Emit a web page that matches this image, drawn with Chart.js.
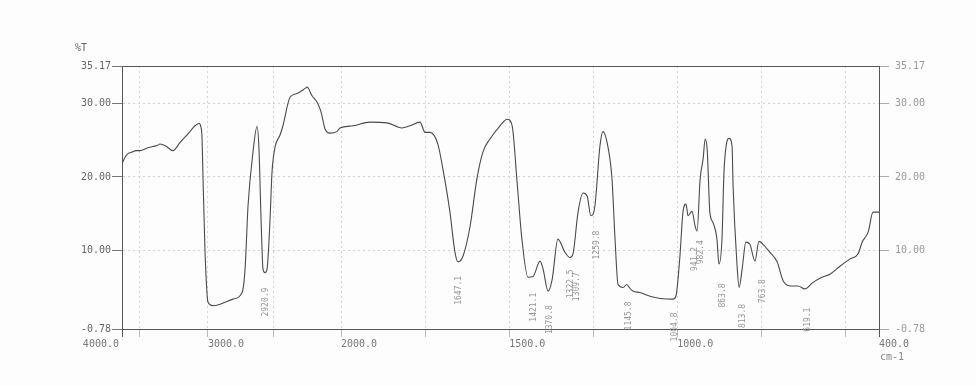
<!DOCTYPE html>
<html>
<head>
<meta charset="utf-8">
<script src="https://cdn.jsdelivr.net/npm/chart.js@4.4.1/dist/chart.umd.min.js"></script>
<style>
  html, body { margin: 0; padding: 0; background: #fdfdfd; }
  canvas { display: block; }
</style>
</head>
<body>
<canvas id="ir" width="976" height="385"></canvas>
<script>
// ////// spectrum (cm-1 , %T) ////////
const wavenumber = [
  3990, 3971, 3912, 3824, 3706, 3588, 3493, 3435, 3370, 3348, 3304, 3254, 3203, 3145, 3094, 3065, 3051, 3043, 3036, 3022,
  3007, 3000, 2962, 2908, 2808, 2738, 2715, 2692, 2654, 2623, 2608, 2592, 2577, 2562, 2546, 2523, 2508, 2485, 2449, 2427,
  2375, 2323, 2279, 2257, 2250, 2213, 2176, 2147, 2118, 2081, 2030, 2008, 1964, 1914, 1863, 1819, 1795, 1765, 1750, 1735,
  1712, 1697, 1676, 1661, 1652, 1637, 1616, 1596, 1578, 1557, 1527, 1506, 1491, 1477, 1462, 1444, 1429, 1408, 1399, 1384,
  1372, 1355, 1334, 1319, 1310, 1295, 1280, 1268, 1257, 1245, 1230, 1221, 1206, 1194, 1185, 1176, 1161, 1150, 1143, 1132,
  1111, 1081, 1051, 1013, 1004, 992, 983, 974, 968, 956, 947, 941, 932, 923, 917, 911, 903, 894, 882, 876,
  867, 861, 852, 846, 837, 834, 822, 816, 807, 796, 784, 769, 757, 745, 724, 703, 685, 665, 641, 620,
  596, 570, 546, 516, 486, 462, 450, 432, 418, 406, 400
];
const transmittance = [
  21.9, 22.1, 22.7, 23.2, 23.4, 23.6, 23.6, 24.0, 24.3, 24.5, 24.2, 23.6, 24.7, 25.9, 27.0, 27.3, 26.8, 25.2, 19.7, 10.1,
  4.0, 2.9, 2.4, 2.6, 3.3, 4.2, 7.4, 16.1, 23.4, 26.9, 23.8, 14.2, 7.4, 6.9, 7.4, 14.2, 20.6, 24.1, 25.7, 27.0,
  30.9, 31.4, 31.9, 32.2, 32.3, 31.1, 30.2, 28.9, 26.6, 26.0, 26.2, 26.7, 27.0, 27.5, 27.4, 26.7, 27.0, 27.5, 26.1, 26.1,
  24.5, 21.1, 15.2, 9.7, 8.4, 9.2, 13.3, 19.7, 23.4, 25.2, 27.0, 27.9, 27.0, 19.7, 11.5, 6.3, 6.4, 8.5, 7.4, 4.4,
  6.0, 11.5, 9.7, 9.0, 9.5, 15.2, 17.8, 17.4, 14.7, 16.0, 24.2, 26.2, 24.1, 19.7, 11.5, 5.3, 4.9, 5.3, 4.9, 4.4,
  4.2, 3.7, 3.4, 3.3, 3.7, 9.2, 15.2, 16.3, 14.7, 15.3, 13.3, 12.6, 19.7, 22.5, 25.2, 23.8, 15.2, 13.8, 11.5, 8.1,
  11.5, 20.7, 24.9, 25.3, 24.2, 18.8, 7.8, 4.9, 7.4, 11.1, 10.8, 8.5, 11.2, 10.8, 9.7, 8.4, 5.8, 5.1, 5.1, 4.7,
  5.6, 6.3, 6.7, 7.8, 8.8, 9.5, 11.1, 12.5, 15.2, 15.2, 15.2
];

// peak labels printed by the instrument (text, where it stands on the scan)
const peakText  = ['2920.9', '1647.1', '1421.1', '1370.8', '1322.5', '1309.7', '1259.8', '1145.8', '1004.8', '982.4', '941.2', '863.8', '813.8', '763.8', '619.1'];
const peakWave  = [2554, 1649, 1426, 1378, 1316, 1298, 1239, 1143, 1007, 929, 947, 864, 804, 745, 611];
const peakLevel = [2.9, 4.5, 2.2, 0.5, 5.4, 5.0, 10.7, 1.0, -0.5, 9.7, 8.8, 3.8, 1.0, 4.4, 0.5];

// axis ticks
const yTickVals = [-0.78, 10, 20, 30, 35.17];
const xGridVals = [4000, 3500, 3000, 2500, 2000, 1750, 1500, 1250, 1000, 750, 500, 400];
const xLabelVals = [4000, 3000, 2000, 1500, 1000, 400];

// the recorder uses a compressed scale above 2000 cm-1
const xKnotWave = [4000, 3500, 3000, 2500, 2000, 400];
const xKnotFrac = [0, 0.0225, 0.1136, 0.1995, 0.2893, 1];

function waveToFrac(v) {
  for (let i = 1; i < xKnotWave.length; i++) {
    if (v >= xKnotWave[i] || i === xKnotWave.length - 1) {
      const t = (xKnotWave[i - 1] - v) / (xKnotWave[i - 1] - xKnotWave[i]);
      return xKnotFrac[i - 1] + t * (xKnotFrac[i] - xKnotFrac[i - 1]);
    }
  }
  return 0;
}
function fracToWave(f) {
  for (let i = 1; i < xKnotFrac.length; i++) {
    if (f <= xKnotFrac[i] || i === xKnotFrac.length - 1) {
      const t = (f - xKnotFrac[i - 1]) / (xKnotFrac[i] - xKnotFrac[i - 1]);
      return xKnotWave[i - 1] - t * (xKnotWave[i - 1] - xKnotWave[i]);
    }
  }
  return 400;
}

class WaveScale extends Chart.LinearScale {
  static id = 'irwave';
  static defaults = Chart.LinearScale.defaults;
  getPixelForValue(v) { return this.getPixelForDecimal(waveToFrac(v)); }
  getValueForPixel(p) { return fracToWave(this.getDecimalForPixel(p)); }
}
Chart.register(WaveScale);

const mono = { family: "'DejaVu Sans Mono', 'Liberation Mono', monospace", size: 10 };

function xLabel(v) {
  if (!xLabelVals.includes(v)) return '';
  const s = v.toFixed(1);
  // left-edge label sits before the axis, the others start at their tick
  return v === 4000 ? s + ' '.repeat(s.length + 1) : ' '.repeat(s.length) + s;
}

const isEdgeY = ctx => ctx.tick && (ctx.tick.value === -0.78 || ctx.tick.value === 35.17);
const isEdgeX = ctx => ctx.tick && (ctx.tick.value === 4000 || ctx.tick.value === 400);

////// peak labels + axis captions /////////
const printLabels = {
  id: 'printLabels',
  afterDatasetsDraw(chart) {
    const {ctx, chartArea, scales} = chart;
    ctx.save();
    ctx.font = "8px 'DejaVu Sans Mono', monospace";
    ctx.fillStyle = '#959595';
    ctx.textAlign = 'center';
    ctx.textBaseline = 'middle';
    peakText.forEach((t, i) => {
      const px = scales.x.getPixelForValue(peakWave[i]);
      const py = scales.y.getPixelForValue(peakLevel[i]);
      ctx.save();
      ctx.translate(px, py);
      ctx.rotate(-Math.PI / 2);
      ctx.fillText(t, 0, 0);
      ctx.restore();
    });
    ctx.font = "10px 'DejaVu Sans Mono', monospace";
    ctx.fillStyle = '#666';
    ctx.textAlign = 'left';
    ctx.fillText('%T', chartArea.left - 47, chartArea.top - 18);
    ctx.fillStyle = '#888';
    ctx.fillText('cm-1', chartArea.right + 1, chartArea.bottom + 28);
    ctx.restore();
  }
};

const points = wavenumber.map((w, i) => ({x: w, y: transmittance[i]}));

new Chart(document.getElementById('ir'), {
  type: 'line',
  data: {
    datasets: [{
      data: points,
      borderColor: '#4a4a4a',
      borderWidth: 1.1,
      pointRadius: 0,
      fill: false,
      cubicInterpolationMode: 'monotone',
      yAxisID: 'y'
    }]
  },
  options: {
    responsive: false,
    animation: false,
    layout: { padding: { top: 66, left: 0, right: 0, bottom: 0 } },
    plugins: { legend: { display: false }, tooltip: { enabled: false }, title: { display: false } },
    scales: {
      x: {
        type: 'irwave', position: 'bottom', min: 400, max: 4000,
        afterBuildTicks: s => { s.ticks = xGridVals.map(v => ({value: v})); },
        afterFit: s => { s.height = 56; },
        ticks: { autoSkip: false, maxRotation: 0, minRotation: 0, padding: 1, color: '#777', font: mono, callback: v => xLabel(v) },
        grid: {
          color: ctx => isEdgeX(ctx) ? '#555' : '#d4d4d4',
          tickColor: ctx => isEdgeX(ctx) ? '#555' : '#bbb',
          tickLength: 8, lineWidth: 1
        },
        border: { display: true, color: '#555', dash: ctx => (ctx.tick && !isEdgeX(ctx)) ? [2, 3] : [] }
      },
      y: {
        type: 'linear', position: 'left', min: -0.78, max: 35.17,
        afterBuildTicks: s => { s.ticks = yTickVals.map(v => ({value: v})); },
        afterFit: s => { s.width = 122; },
        ticks: { color: '#666', font: mono, padding: 1, callback: v => v.toFixed(2) },
        grid: {
          color: ctx => isEdgeY(ctx) ? '#555' : '#d4d4d4',
          tickColor: '#777', tickLength: 10, lineWidth: 1
        },
        border: { display: true, color: '#555', dash: ctx => (ctx.tick && !isEdgeY(ctx)) ? [2, 3] : [] }
      },
      y2: {
        type: 'linear', position: 'right', min: -0.78, max: 35.17,
        afterBuildTicks: s => { s.ticks = yTickVals.map(v => ({value: v})); },
        afterFit: s => { s.width = 97; },
        ticks: { color: '#9a9a9a', font: mono, padding: 6, callback: v => v.toFixed(2) },
        grid: { drawOnChartArea: false, tickColor: '#aaa', tickLength: 10 },
        border: { display: true, color: '#555' }
      }
    }
  },
  plugins: [printLabels]
});
</script>
</body>
</html>
